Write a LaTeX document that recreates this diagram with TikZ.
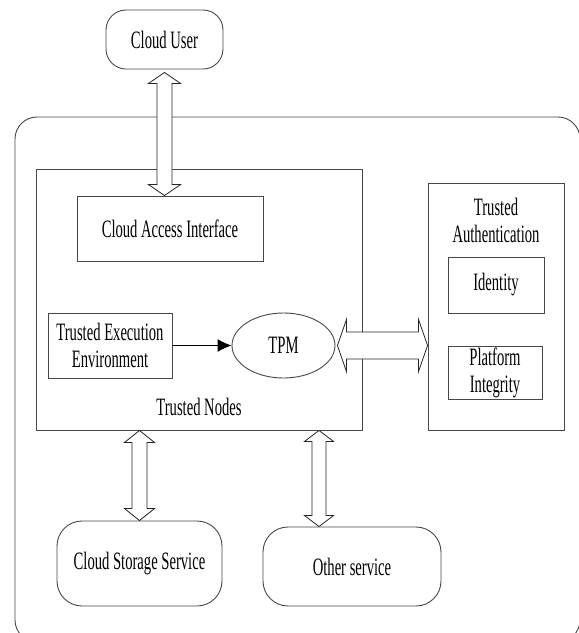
\documentclass[tikz,border=0pt]{standalone}
\usepackage{fontspec}
\setmainfont{Liberation Serif}[FakeStretch=0.585]
\usetikzlibrary{calc,arrows.meta,shapes.geometric}
\tikzset{
  line/.style={draw=black!72, line width=0.9pt},
  box/.style={line, rectangle, align=center, inner sep=0pt},
  rbox/.style={box, rounded corners=#1},
  blk/.style={draw=black!85, line width=0.8pt, fill=white, line join=miter},
  txt/.style={align=center, inner sep=0pt},
}
\newcommand\vdblk[5]{% top tip, bottom tip, shaft half, head half, head length
  \path[blk] (#1) -- ($(#1)+(#4,#5)$) -- ($(#1)+(#3,#5)$) -- ($(#2)+(#3,-#5)$) -- ($(#2)+(#4,-#5)$) -- (#2)
    -- ($(#2)+(-#4,-#5)$) -- ($(#2)+(-#3,-#5)$) -- ($(#1)+(-#3,#5)$) -- ($(#1)+(-#4,#5)$) -- cycle;}
\newcommand\hdblk[5]{% left tip, right tip, shaft half, head half, head length
  \path[blk] (#1) -- ($(#1)+(#5,-#4)$) -- ($(#1)+(#5,-#3)$) -- ($(#2)+(-#5,-#3)$) -- ($(#2)+(-#5,-#4)$) -- (#2)
    -- ($(#2)+(-#5,#4)$) -- ($(#2)+(-#5,#3)$) -- ($(#1)+(#5,#3)$) -- ($(#1)+(#5,#4)$) -- cycle;}
\begin{document}
\begin{tikzpicture}[x=1pt, y=-1pt, font=\fontsize{25}{27}\selectfont]
\useasboundingbox (0,0) rectangle (579,633);
\clip (0,0) rectangle (579,633);
% outer cloud container
\node[rbox=22, minimum width=565pt, minimum height=525pt] (cloud) at (297.5,379.5) {};
% trusted nodes
\node[box, minimum width=326pt, minimum height=261pt] (tn) at (199,299.5) {};
\node[txt] (tnl) at (199,407) {Trusted Nodes};
\node[box, minimum width=186pt, minimum height=65pt] (cai) at (170,228.5) {Cloud Access Interface};
\node[box, minimum width=124pt, minimum height=65pt] (tee) at (110,345.5) {Trusted Execution\\Environment};
\node[line, ellipse, minimum width=103pt, minimum height=65pt, inner sep=0pt] (tpm) at (283.5,345.5) {TPM};
% trusted authentication
\node[box, minimum width=136pt, minimum height=247pt] (ta) at (496,306.5) {};
\node[txt] (tal) at (496,220) {Trusted\\Authentication};
\node[box, minimum width=96pt, minimum height=56pt] (id) at (496,285) {Identity};
\node[box, minimum width=94pt, minimum height=53pt] (pi) at (495,372.5) {Platform\\Integrity};
% outside entities
\node[rbox=20, minimum width=117pt, minimum height=59pt] (cu) at (164.5,39.5) {Cloud User};
\node[rbox=25, minimum width=165pt, minimum height=85pt] (cs) at (139.5,563.5) {Cloud Storage Service};
\node[rbox=25, minimum width=178pt, minimum height=79pt] (os) at (352,566.5) {Other service};
% connectors
\draw[black, line width=0.9pt, -{Latex[length=14pt, width=13pt]}] (tee.east) -- (tpm.west);
\coordinate (a1) at ($(cu.south)+(0,3)$);
\vdblk{a1}{a1 |- cai.north}{7.5}{16}{11}
\vdblk{cs.north |- tn.south}{cs.north}{7.5}{15}{12}
\coordinate (ot) at ($(os.north)+(-33,0)$);
\vdblk{ot |- tn.south}{ot}{7}{14.5}{11}
\coordinate (h1) at ($(tpm.east)+(2,0)$);
\hdblk{h1}{h1 -| ta.west}{13.5}{26}{9}
\end{tikzpicture}
\end{document}
